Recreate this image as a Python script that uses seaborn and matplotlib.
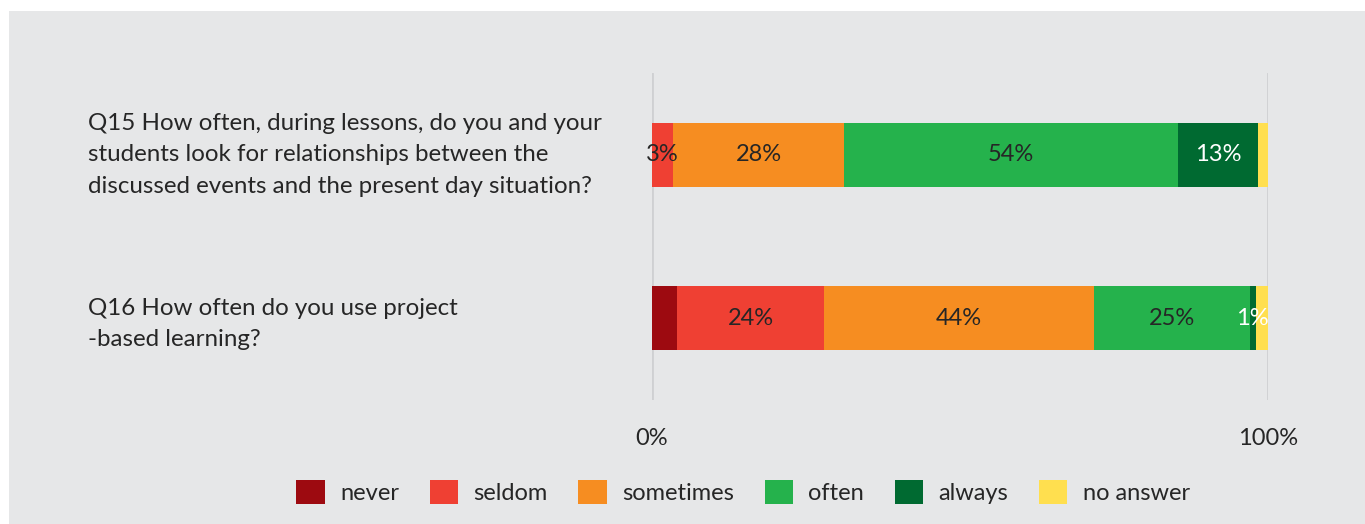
import matplotlib
matplotlib.use("Agg")
import matplotlib.pyplot as plt
from matplotlib.patches import Rectangle, Patch
import numpy as np
import pandas as pd
import seaborn as sns

# Survey answers (percent of respondents)
questions = [
    "Q15 How often, during lessons, do you and your\nstudents look for relationships between the\ndiscussed events and the present day situation?",
    "Q16 How often do you use project\n-based learning?",
]
answers = ["never", "seldom", "sometimes", "often", "always", "no answer"]
never = [0.0, 4.1]
seldom = [3.4, 23.9]
sometimes = [27.8, 43.7]
often = [54.2, 25.3]
always = [13.0, 1.0]
no_answer = [1.6, 2.0]
x_ticks = [0, 100]
x_tick_labels = ["0%", "100%"]

series = [never, seldom, sometimes, often, always, no_answer]
colors = ["#9d0a10", "#ef4033", "#f68d21", "#25b24c", "#006a31", "#ffdf4f"]
labelled = [False, True, True, True, True, False]
label_colors = ["#262626", "#262626", "#262626", "#262626", "#ffffff", "#262626"]

sns.set_style("white")
plt.rcParams["font.family"] = ["Lato", "DejaVu Sans"]
TEXT = "#262626"
FS = 17

W, H = 1365, 524
fig = plt.figure(figsize=(W / 100, H / 100), dpi=100, facecolor="white")
fig.patches.append(Rectangle((9 / W, 0), 1 - 9 / W, 1 - 11 / H,
                             transform=fig.transFigure, facecolor="#e6e7e8",
                             edgecolor="none", zorder=-10))

ax = fig.add_axes([652 / W, 1 - 400 / H, 616 / W, 327 / H])
ax.set_facecolor("none")

df = pd.DataFrame({a: s for a, s in zip(answers, series)})
df["question"] = questions
cum = df[answers].cumsum(axis=1)

# stacked bars: draw cumulative totals from the last answer back to the first
for a, c in zip(reversed(answers), reversed(colors)):
    sns.barplot(x=cum[a], y=df["question"], orient="h", color=c,
                width=0.39, saturation=1, edgecolor="none", ax=ax, zorder=3)

# value labels centred in each segment
for j, a in enumerate(answers):
    if not labelled[j]:
        continue
    for i in range(len(questions)):
        v = df[a].iloc[i]
        if v <= 0:
            continue
        ax.text(cum[a].iloc[i] - v / 2, i, f"{round(v)}%", ha="center",
                va="center", fontsize=FS, color=label_colors[j], zorder=5)

ax.set_xlim(0, 100)
ax.set_ylim(1.5, -0.5)
ax.set_xticks(x_ticks)
ax.set_xticklabels(x_tick_labels, fontsize=FS, color=TEXT)
ax.tick_params(axis="x", length=0, pad=20)
ax.set_yticks([])
ax.set_xlabel("")
ax.set_ylabel("")
for s in ax.spines.values():
    s.set_visible(False)
for xv in x_ticks:
    ax.axvline(xv, color="#cfd0d2", lw=2, zorder=1)

# question texts, left aligned
q_offsets = [0.0, 0.035]
for i, q in enumerate(questions):
    ax.text((88 - 652) / 616, i + q_offsets[i], q,
            transform=ax.get_yaxis_transform(), ha="left", va="center",
            fontsize=17.4, color=TEXT, linespacing=1.62)

handles = [Patch(facecolor=c, edgecolor="none") for c in colors]
fig.legend(handles, answers, loc="center", ncol=6,
           bbox_to_anchor=(743 / W, 1 - 492 / H), frameon=False,
           fontsize=FS, handlelength=1.2, handleheight=1.2,
           handletextpad=0.65, columnspacing=1.3, labelcolor=TEXT)

fig.savefig("out.png", dpi=100, facecolor="white")
